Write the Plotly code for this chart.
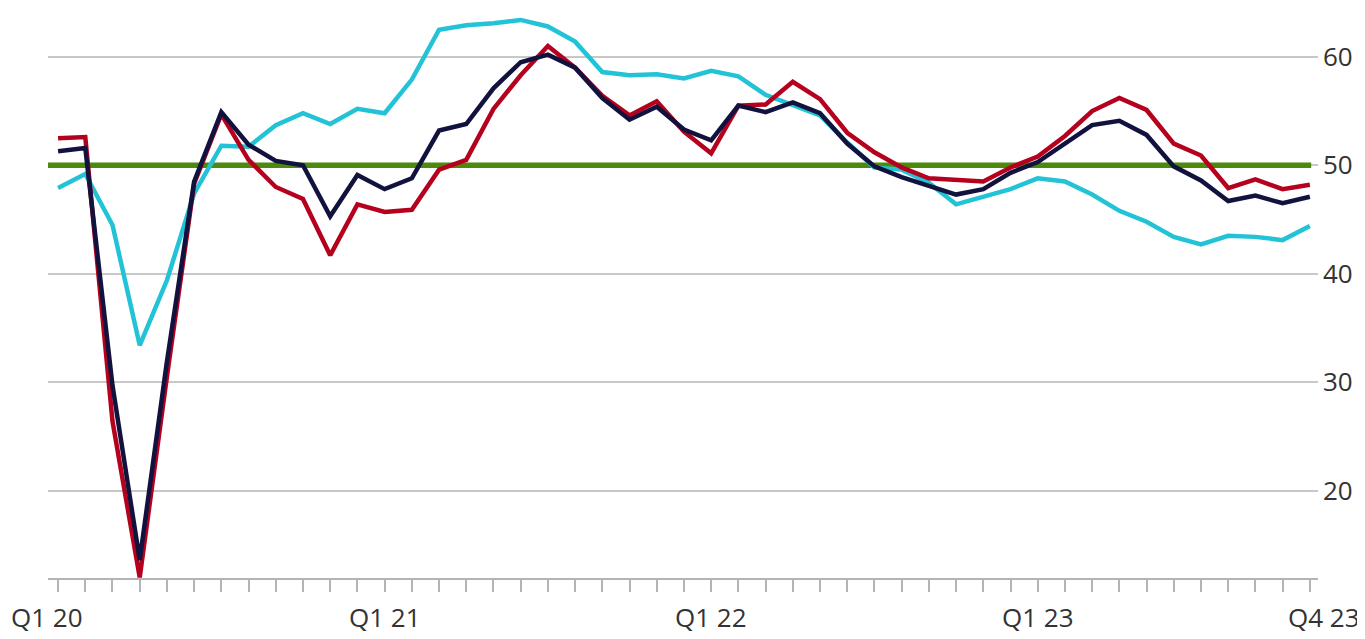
import plotly.graph_objects as go

months = list(range(47))  # Jan 2020 .. Nov 2023

composite = [51.3, 51.6, 29.7, 13.6, 31.9, 48.5, 54.9, 51.9, 50.4, 50.0, 45.3, 49.1,
             47.8, 48.8, 53.2, 53.8, 57.1, 59.5, 60.2, 59.0, 56.2, 54.2, 55.4, 53.3,
             52.3, 55.5, 54.9, 55.8, 54.8, 52.0, 49.9, 48.9, 48.1, 47.3, 47.8, 49.3,
             50.3, 52.0, 53.7, 54.1, 52.8, 49.9, 48.6, 46.7, 47.2, 46.5, 47.1]

services = [52.5, 52.6, 26.4, 12.0, 30.5, 48.3, 54.7, 50.5, 48.0, 46.9, 41.7, 46.4,
            45.7, 45.9, 49.6, 50.5, 55.2, 58.3, 61.0, 59.0, 56.4, 54.6, 55.9, 53.1,
            51.1, 55.5, 55.6, 57.7, 56.1, 53.0, 51.2, 49.8, 48.8, 48.6, 48.5, 49.8,
            50.8, 52.7, 55.0, 56.2, 55.1, 52.0, 50.9, 47.9, 48.7, 47.8, 48.2]

manufacturing = [47.9, 49.2, 44.5, 33.4, 39.4, 47.4, 51.8, 51.7, 53.7, 54.8, 53.8, 55.2,
                 54.8, 57.9, 62.5, 62.9, 63.1, 63.4, 62.8, 61.4, 58.6, 58.3, 58.4, 58.0,
                 58.7, 58.2, 56.5, 55.5, 54.6, 52.1, 49.8, 49.6, 48.4, 46.4, 47.1, 47.8,
                 48.8, 48.5, 47.3, 45.8, 44.8, 43.4, 42.7, 43.5, 43.4, 43.1, 44.4]

threshold = 50
y_ticks = [20, 30, 40, 50, 60]
x_label_pos = [0, 12, 24, 36, 46]
x_label_text = ["Q1 20", "Q1 21", "Q1 22", "Q1 23", "Q4 23"]
x_label_anchor = ["left", "center", "center", "center", "right"]
x_label_shift = [-49, 0, 0, 0, 52]

FONT = "Open Sans"
FS = 26

fig = go.Figure()

fig.add_trace(go.Scatter(x=[months[0] - 0.4, months[-1] + 0.05], y=[threshold, threshold],
                         mode="lines", line=dict(color="#4b8a0c", width=5.5),
                         hoverinfo="skip", showlegend=False))
fig.add_trace(go.Scatter(x=months, y=manufacturing, mode="lines",
                         line=dict(color="#22c3d6", width=4.5), name="Manufacturing",
                         showlegend=False))
fig.add_trace(go.Scatter(x=months, y=services, mode="lines",
                         line=dict(color="#b5001e", width=4.5), name="Services",
                         showlegend=False))
fig.add_trace(go.Scatter(x=months, y=composite, mode="lines",
                         line=dict(color="#12123e", width=4.5), name="Composite",
                         showlegend=False))

for pos, txt, anc, sh in zip(x_label_pos, x_label_text, x_label_anchor, x_label_shift):
    fig.add_annotation(x=pos, xref="x", y=-0.033, yref="paper", yanchor="top",
                       xanchor=anc, text=txt, showarrow=False, xshift=sh,
                       font=dict(family=FONT, size=FS, color="#333333"))

fig.update_layout(
    width=1357, height=631,
    margin=dict(l=40, r=47, t=0, b=61),
    paper_bgcolor="white", plot_bgcolor="white",
    font=dict(family=FONT, size=FS, color="#333333"),
    xaxis=dict(
        range=[-0.37, 46.3],
        showgrid=False, zeroline=False,
        showline=True, linecolor="#b4b4b4", linewidth=2,
        tickmode="array", tickvals=x_label_pos, ticktext=[""] * 5,
        ticks="outside", ticklen=22, tickwidth=1.5, tickcolor="#b4b4b4",
        showticklabels=False,
        minor=dict(tickmode="linear", tick0=0, dtick=1, ticks="outside",
                   ticklen=12, tickwidth=1.5, tickcolor="#b4b4b4", showgrid=False),
    ),
    yaxis=dict(
        range=[11.95, 64.5], side="right",
        tickmode="array", tickvals=y_ticks,
        showgrid=True, gridcolor="#c8c8c8", gridwidth=2,
        zeroline=False, showline=False, ticks="",
        ticklabelstandoff=4,
        tickfont=dict(family=FONT, size=FS, color="#333333"),
    ),
)

fig.write_html("out.html")
